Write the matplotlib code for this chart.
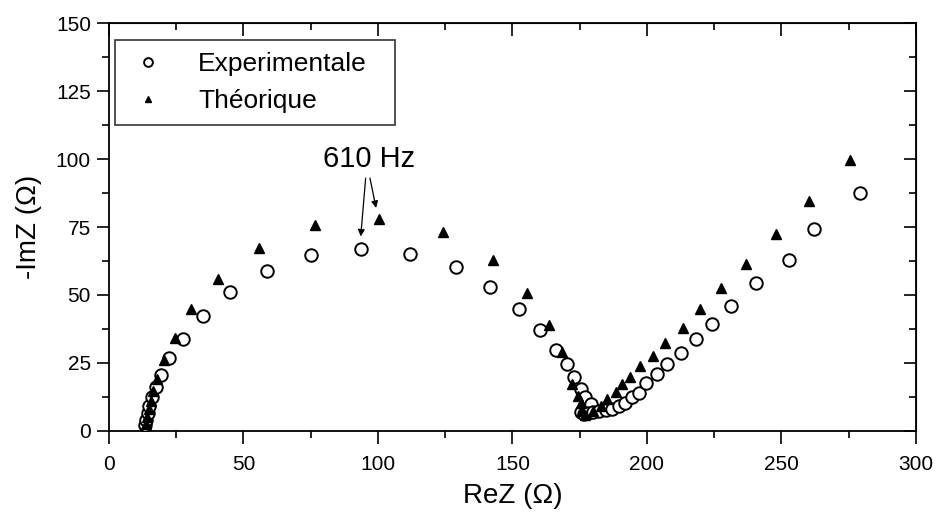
import matplotlib.pyplot as plt

plt.rcParams['font.family'] = ['Liberation Sans', 'DejaVu Sans']

# experimental impedance (ReZ, -ImZ) in ohm
exp_re = [13.4, 13.7, 14.4, 15.0, 15.9, 17.5, 19.3, 22.4, 27.4, 34.8, 44.9, 58.6, 75.1, 93.5,
          111.8, 128.9, 141.7, 152.5, 160.4, 166.0, 170.3, 172.8, 175.3, 177.1, 179.0,
          175.5, 176.5, 178.0, 180.0, 182.0, 184.6, 187.0, 189.5, 192.0, 194.5, 196.9,
          199.8, 203.7, 207.5, 212.5, 218.4, 224.0, 231.3, 240.5, 252.9, 261.9, 279.2]
exp_im = [2.3, 4.2, 6.7, 9.2, 12.3, 16.0, 20.5, 26.7, 33.9, 42.3, 51.0, 58.9, 64.6, 67.0,
          65.2, 60.2, 52.8, 45.0, 37.0, 29.6, 24.6, 19.7, 15.3, 12.3, 9.8,
          7.0, 6.2, 6.5, 7.0, 7.3, 7.7, 8.2, 9.2, 10.4, 12.3, 14.1,
          17.8, 20.9, 24.6, 28.7, 33.7, 39.5, 46.0, 54.3, 63.0, 74.2, 87.5]

# theoretical impedance
th_re = [13.8, 14.2, 14.8, 15.5, 16.5, 18.0, 20.3, 24.5, 30.4, 40.5, 55.8, 76.6, 100.5,
         124.0, 142.7, 155.5, 163.5, 168.5, 172.2, 174.5, 175.3, 175.9, 177.0, 180.0,
         183.0, 185.2, 188.6, 190.7, 193.6, 197.5, 202.2, 206.8, 213.4, 219.7, 227.5,
         236.7, 247.8, 260.1, 275.3]
th_im = [2.5, 5.0, 8.0, 11.0, 14.5, 19.0, 26.2, 34.2, 44.7, 56.0, 67.4, 75.6, 77.9,
         73.2, 63.0, 50.6, 39.1, 29.2, 17.2, 13.0, 10.4, 7.3, 6.0, 7.5,
         9.0, 11.6, 14.4, 17.2, 20.0, 23.8, 27.5, 32.4, 38.0, 44.8, 52.5,
         61.4, 72.3, 84.7, 99.8]

fig = plt.figure(figsize=(9.42, 5.13), dpi=100)
ax = fig.add_axes([0.1157, 0.160, 0.8567, 0.795])

ax.plot(exp_re, exp_im, 'o', ms=9, mfc='white', mec='black', mew=1.4,
        linestyle='none', label='Experimentale', zorder=3)
ax.plot(th_re, th_im, '^', ms=6.5, color='black', linestyle='none',
        label='Théorique', zorder=4)

ax.set_xlim(0, 300)
ax.set_ylim(0, 150)
ax.set_xticks(range(0, 301, 50))
ax.set_yticks(range(0, 151, 25))
ax.set_xticks(range(25, 300, 50), minor=True)
ax.set_yticks([12.5 + 25 * i for i in range(6)], minor=True)
ax.tick_params(which='major', direction='out', length=9, width=1.2, labelsize=15, pad=4)
ax.tick_params(which='minor', direction='out', length=5, width=1.2)
ax.tick_params(axis='x', which='major', pad=8)
for s in ax.spines.values():
    s.set_linewidth(1.3)

# inward ticks on top and right
top = ax.secondary_xaxis('top')
top.set_xticks(range(0, 301, 50))
top.set_xticks(range(25, 300, 50), minor=True)
top.tick_params(which='major', direction='in', length=9, width=1.2, labeltop=False)
top.tick_params(which='minor', direction='in', length=5, width=1.2)
right = ax.secondary_yaxis('right')
right.set_yticks(range(0, 151, 25))
right.set_yticks([12.5 + 25 * i for i in range(6)], minor=True)
right.tick_params(which='major', direction='in', length=9, width=1.2, labelright=False)
right.tick_params(which='minor', direction='in', length=5, width=1.2)

ax.set_xlabel('ReZ (Ω)', fontsize=20, labelpad=7)
ax.set_ylabel('-ImZ (Ω)', fontsize=20, labelpad=10)

ax.annotate('', xy=(93.5, 70.5), xytext=(95.5, 94),
            arrowprops=dict(arrowstyle='-|>', color='black', lw=0.9, mutation_scale=10))
ax.annotate('', xy=(99.5, 81), xytext=(96.8, 94),
            arrowprops=dict(arrowstyle='-|>', color='black', lw=0.9, mutation_scale=10))
ax.text(96.5, 95, '610 Hz', fontsize=21, ha='center', va='bottom')

leg = ax.legend(loc='upper left', fontsize=19, frameon=True, fancybox=False,
                edgecolor='black', markerscale=0.7, handletextpad=1.1,
                handlelength=1.6, labelspacing=0.5, borderpad=0.45,
                borderaxespad=0, mode='expand',
                bbox_to_anchor=(0.0075, 0.758, 0.347, 0.2))
leg.get_frame().set_linewidth(1.2)

fig.savefig('out.png', dpi=100)
